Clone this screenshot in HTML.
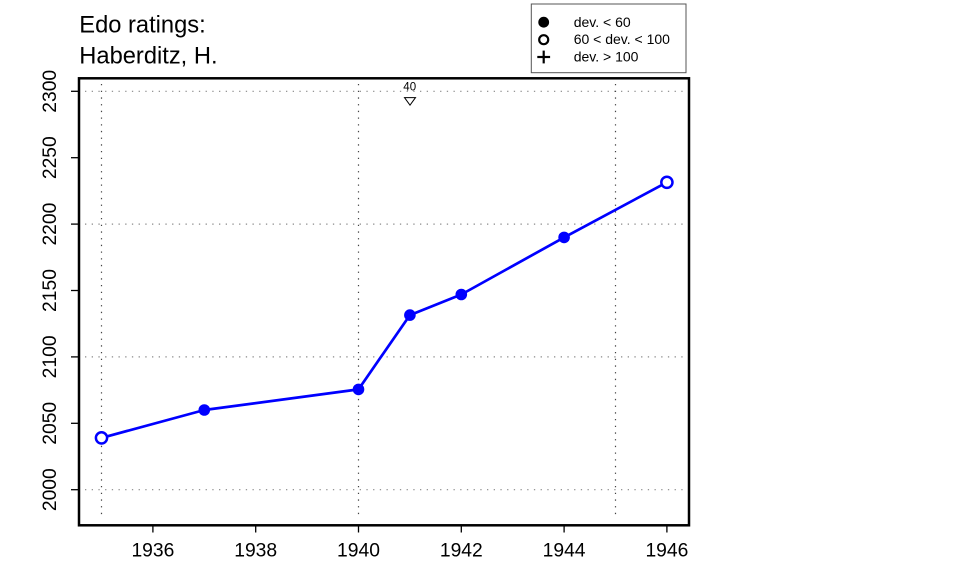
<!DOCTYPE html>
<html>
<head>
<meta charset="utf-8">
<style>
  html, body { margin:0; padding:0; background:#fff; }
  svg { display:block; }
  text { font-family: "Liberation Sans", "DejaVu Sans", sans-serif; fill:#000; }
</style>
</head>
<body>
<svg width="960" height="576" viewBox="0 0 960 576" xmlns="http://www.w3.org/2000/svg">
  <rect x="0" y="0" width="960" height="576" fill="#fff"/>

  <!-- Title -->
  <text x="79.3" y="32.3" font-size="23.7">Edo ratings:</text>
  <text x="79.3" y="63.3" font-size="23.7">Haberditz, H.</text>

  <!-- Grid: horizontal -->
  <g stroke="#888" stroke-width="1.2" stroke-dasharray="1.3 5.4" fill="none">
    <line x1="85" y1="489.7" x2="684" y2="489.7"/>
    <line x1="85" y1="356.9" x2="684" y2="356.9"/>
    <line x1="85" y1="224.1" x2="684" y2="224.1"/>
    <line x1="85" y1="91.3" x2="684" y2="91.3"/>
  </g>
  <!-- Grid: vertical -->
  <g stroke="#444" stroke-width="1.2" stroke-dasharray="1.3 5.4" fill="none">
    <line x1="101.5" y1="84" x2="101.5" y2="519"/>
    <line x1="358.5" y1="84" x2="358.5" y2="519"/>
    <line x1="615.5" y1="84" x2="615.5" y2="519"/>
  </g>

  <!-- Annotation -->
  <text x="409.7" y="90.7" font-size="11.5" text-anchor="middle">40</text>
  <polygon points="404.5,97.6 415.5,97.6 410,105.2" fill="none" stroke="#000" stroke-width="1"/>

  <!-- Series -->
  <polyline points="101.5,437.9 204.3,410.0 358.5,389.4 409.9,315.1 461.3,294.5 564.1,237.4 666.9,182.3"
            fill="none" stroke="#0000ff" stroke-width="2.7" stroke-linejoin="round"/>
  <g fill="#0000ff">
    <circle cx="204.3" cy="410.0" r="5.8"/>
    <circle cx="358.5" cy="389.4" r="5.8"/>
    <circle cx="409.9" cy="315.1" r="5.8"/>
    <circle cx="461.3" cy="294.5" r="5.8"/>
    <circle cx="564.1" cy="237.4" r="5.8"/>
  </g>
  <g fill="#fff" stroke="#0000ff" stroke-width="2.5">
    <circle cx="101.5" cy="437.9" r="5.6"/>
    <circle cx="666.9" cy="182.3" r="5.6"/>
  </g>

  <!-- Plot box -->
  <rect x="79" y="78.3" width="610" height="447" fill="none" stroke="#000" stroke-width="2.5"/>

  <!-- Y ticks -->
  <g stroke="#000" stroke-width="1.3">
    <line x1="71" y1="489.7" x2="79" y2="489.7"/>
    <line x1="71" y1="423.3" x2="79" y2="423.3"/>
    <line x1="71" y1="356.9" x2="79" y2="356.9"/>
    <line x1="71" y1="290.5" x2="79" y2="290.5"/>
    <line x1="71" y1="224.1" x2="79" y2="224.1"/>
    <line x1="71" y1="157.7" x2="79" y2="157.7"/>
    <line x1="71" y1="91.3" x2="79" y2="91.3"/>
  </g>
  <g font-size="19.3" text-anchor="middle">
    <text transform="translate(56,489.7) rotate(-90)">2000</text>
    <text transform="translate(56,423.3) rotate(-90)">2050</text>
    <text transform="translate(56,356.9) rotate(-90)">2100</text>
    <text transform="translate(56,290.5) rotate(-90)">2150</text>
    <text transform="translate(56,224.1) rotate(-90)">2200</text>
    <text transform="translate(56,157.7) rotate(-90)">2250</text>
    <text transform="translate(56,91.3) rotate(-90)">2300</text>
  </g>

  <!-- X ticks -->
  <g stroke="#000" stroke-width="1.3">
    <line x1="152.9" y1="525" x2="152.9" y2="532.5"/>
    <line x1="255.7" y1="525" x2="255.7" y2="532.5"/>
    <line x1="358.5" y1="525" x2="358.5" y2="532.5"/>
    <line x1="461.3" y1="525" x2="461.3" y2="532.5"/>
    <line x1="564.1" y1="525" x2="564.1" y2="532.5"/>
    <line x1="666.9" y1="525" x2="666.9" y2="532.5"/>
  </g>
  <g font-size="19.3" text-anchor="middle">
    <text x="152.9" y="556.7">1936</text>
    <text x="255.7" y="556.7">1938</text>
    <text x="358.5" y="556.7">1940</text>
    <text x="461.3" y="556.7">1942</text>
    <text x="564.1" y="556.7">1944</text>
    <text x="666.9" y="556.7">1946</text>
  </g>

  <!-- Legend -->
  <rect x="531.3" y="4" width="154.7" height="68.7" fill="#fff" stroke="#555" stroke-width="1"/>
  <circle cx="543.7" cy="22.2" r="5.4" fill="#000"/>
  <circle cx="543.7" cy="39.7" r="4.5" fill="none" stroke="#000" stroke-width="2.2"/>
  <g stroke="#000" stroke-width="2.2">
    <line x1="537.3" y1="57" x2="550.1" y2="57"/>
    <line x1="543.7" y1="50.6" x2="543.7" y2="63.4"/>
  </g>
  <g font-size="14">
    <text x="573.7" y="26.8">dev. &lt; 60</text>
    <text x="573.7" y="44.2">60 &lt; dev. &lt; 100</text>
    <text x="573.7" y="61.6">dev. &gt; 100</text>
  </g>
</svg>
</body>
</html>
